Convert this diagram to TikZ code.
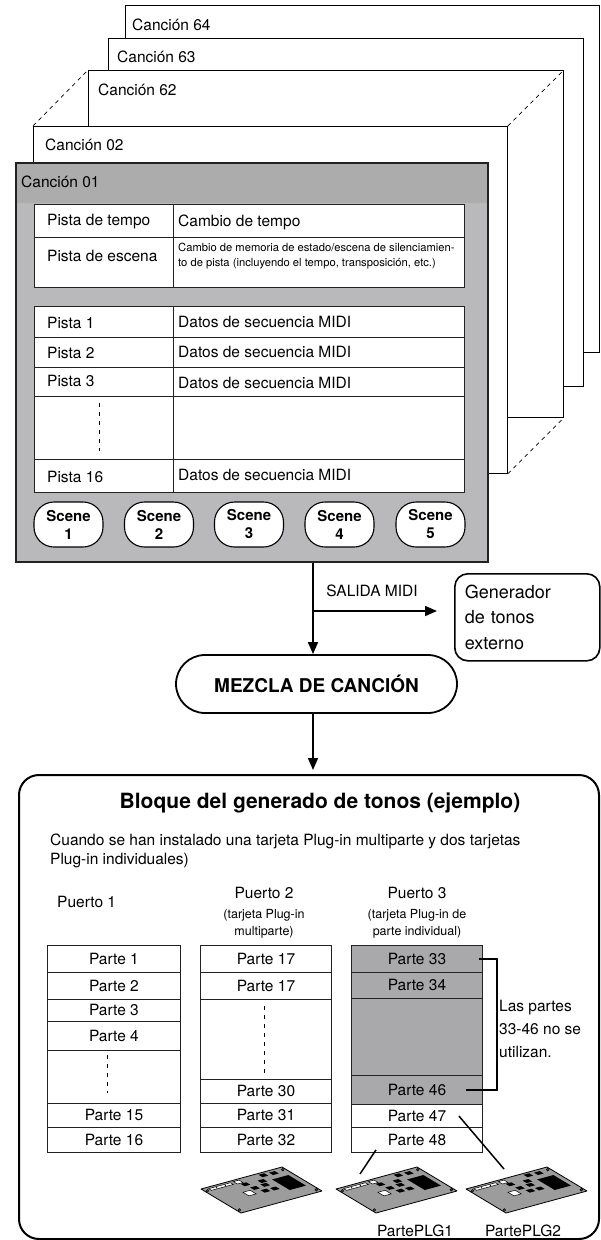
\documentclass[tikz,border=0pt]{standalone}
\usepackage{fontspec}
\setmainfont{TeX Gyre Heros}
\usetikzlibrary{arrows.meta,calc}

\definecolor{hdrgray}{HTML}{ACACAC}
\definecolor{bodygray}{HTML}{B9B9BC}
\definecolor{partgray}{HTML}{A9A9AC}
\definecolor{boardfill}{HTML}{9C9C9C}
\definecolor{inkline}{HTML}{222222}

% A plug-in card seen at an angle; #1 = its left corner, #2 = name of that corner
\newcommand\pcboard[2]{%
  \coordinate (#2) at #1;
  \begin{scope}[shift={#1}, x={(81pt,22pt)}, y={(40pt,-24pt)}]
    \filldraw[fill=boardfill, draw=black, line width=0.8pt, line join=round]
      (0,0) -- (1,0) -- (1,1) -- (0,1) -- cycle;
    % edge connector
    \filldraw[fill=white, draw=black, line width=0.5pt]
      (0.07,0.05) -- ++(0.27,0) -- ++(0,0.07) -- ++(-0.27,0) -- cycle;
    \fill[black] (0.15,0.085) circle[radius=0.7pt] (0.26,0.085) circle[radius=0.7pt];
    \filldraw[fill=white, draw=black, line width=0.5pt]
      (0.38,0.04) -- ++(0.07,0) -- ++(0,0.1) -- ++(-0.07,0) -- cycle;
    % main chip
    \fill[black] (0.74,0.28) -- ++(0.20,0) -- ++(0,0.44) -- ++(-0.20,0) -- cycle;
    % small chips
    \foreach \a/\b in {0.41/0.16, 0.60/0.20, 0.69/0.04, 0.81/0.06, 0.44/0.34, 0.57/0.33, 0.49/0.50, 0.60/0.51}
      \fill[black] (\a,\b) -- ++(0.07,0) -- ++(0,0.1) -- ++(-0.07,0) -- cycle;
    % pad
    \filldraw[fill=white, draw=black, line width=0.5pt]
      (0.31,0.42) -- ++(0.09,0) -- ++(0,0.15) -- ++(-0.09,0) -- cycle;
    % mounting holes
    \foreach \a/\b in {0.03/0.1, 0.97/0.08, 0.97/0.92, 0.03/0.9}
      \filldraw[fill=black!70, draw=black, line width=0.4pt] (\a,\b) circle[radius=1.4pt];
  \end{scope}}

\tikzset{
  txt/.style={inner sep=0pt, font=\fontsize{15.5}{18}\selectfont},
  smalltxt/.style={inner sep=0pt, font=\fontsize{11.2}{14.5}\selectfont},
  notetxt/.style={inner sep=0pt, font=\fontsize{12.5}{17}\selectfont},
  page/.style={draw=black, fill=white, line width=0.8pt, inner sep=0pt, anchor=north west},
  cell/.style={draw=inkline, fill=white, line width=0.9pt, inner sep=0pt, anchor=north west},
  pcell/.style={cell, font=\fontsize{15.5}{18}\selectfont},
  scene/.style={draw=black, fill=white, line width=1.1pt, rounded corners=20pt,
    minimum width=69pt, minimum height=45pt, inner sep=0pt, align=center,
    font=\bfseries\fontsize{15}{18}\selectfont},
  arr/.style={line width=1.6pt, -{Triangle[length=12pt,width=10pt]}},
  dots/.style={dash pattern=on 4pt off 5pt, line width=0.8pt},
  pagedash/.style={dash pattern=on 4pt off 4pt, line width=0.7pt},
}

\begin{document}
\begin{tikzpicture}[x=1pt,y=-1pt]
\useasboundingbox (0,0) rectangle (600,1240);

% ---- stack of songs ----
\node[page, minimum width=474pt, minimum height=347pt] (s64) at (125,5) {};
\node[txt, anchor=west] (l64) at (132,25) {Canción 64};
\node[page, minimum width=475pt, minimum height=348pt] (s63) at (108,38) {};
\node[txt, anchor=west] (l63) at (117,57) {Canción 63};
\node[page, minimum width=475pt, minimum height=347pt] (s62) at (88,70) {};
\node[txt, anchor=west] (l62) at (98,90) {Canción 62};
\node[page, minimum width=474pt, minimum height=347pt] (s02) at (33,126) {};
\node[txt, anchor=west] (l02) at (45,145) {Canción 02};
\draw[pagedash] (s02.north west) -- (s62.north west);
\draw[pagedash] (s02.north east) -- (s62.north east);
\draw[pagedash] (s02.south east) -- (s62.south east);

% ---- song 01 ----
\fill[bodygray] (15,162) rectangle (487,561);
\fill[hdrgray] (15,162) rectangle (487,203);
\node[draw=inkline, line width=2.4pt, anchor=north west, minimum width=472pt,
      minimum height=399pt, inner sep=0pt] (s01) at (15,162) {};
\node[txt, anchor=west] (l01) at (21,182) {Canción 01};

% tempo / scene tracks
\node[cell, minimum width=139pt, minimum height=33pt] (ta1) at (34,204) {};
\node[cell, minimum width=291pt, minimum height=33pt] (tb1) at (173,204) {};
\node[cell, minimum width=139pt, minimum height=50pt] (ta2) at (34,237) {};
\node[cell, minimum width=291pt, minimum height=50pt] (tb2) at (173,237) {};
\node[txt, anchor=west] (x1) at (47,222) {Pista de tempo};
\node[txt, anchor=west] (x2) at (178,222) {Cambio de tempo};
\node[txt, anchor=west] (x3) at (47,256) {Pista de escena};
\node[smalltxt, anchor=west, align=left] (x4) at (178,256)
  {Cambio de memoria de estado/escena de silenciamien-\\to de pista (incluyendo el tempo, transposición, etc.)};

% sequence tracks
\foreach \y/\h/\n in {306/31/1, 337/30/2, 367/29/3, 396/63/4, 459/33/5}{
  \node[cell, minimum width=139pt, minimum height=\h pt] (pa\n) at (34,\y) {};
  \node[cell, minimum width=291pt, minimum height=\h pt] (pb\n) at (173,\y) {};
}
\node[txt, anchor=west] (y1) at (47,323) {Pista 1};
\node[txt, anchor=west] (z1) at (178,322) {Datos de secuencia MIDI};
\node[txt, anchor=west] (y2) at (47,353) {Pista 2};
\node[txt, anchor=west] (z2) at (178,352) {Datos de secuencia MIDI};
\node[txt, anchor=west] (y3) at (47,381) {Pista 3};
\node[txt, anchor=west] (z3) at (178,383) {Datos de secuencia MIDI};
\node[txt, anchor=west] (y5) at (47,477) {Pista 16};
\node[txt, anchor=west] (z5) at (178,475) {Datos de secuencia MIDI};
\draw[dots] (99,403) -- (99,451);

% scenes
\foreach \i/\x in {1/68.5, 2/159, 3/249, 4/339.5, 5/430.5}
  \node[scene] (sc\i) at (\x,524.5) {Scene\\\i};

% ---- output flow ----
\coordinate (tap) at (313,611);
\node[draw, line width=1.8pt, rounded corners=29pt, minimum width=281pt, minimum height=58pt,
      inner sep=0pt, font=\bfseries\fontsize{19}{22}\selectfont] (mix) at (316.5,684) {MEZCLA DE CANCIÓN};
\node[draw, line width=1.6pt, rounded corners=13pt, anchor=north west, minimum height=87pt,
      text width=125pt, inner xsep=10pt, align=left,
      font=\fontsize{18}{25.5}\selectfont] (gen) at (454,573) {Generador\\de tonos\\externo};
\node[draw, line width=2pt, rounded corners=20pt, anchor=north west, minimum width=580pt,
      minimum height=464pt, inner sep=0pt] (blk) at (18,774) {};

\draw[line width=1.6pt] (s01.south -| tap) -- (tap);
\draw[arr] (tap) -- (tap |- mix.north);
\draw[arr] (tap) -- ($(tap -| gen.west)+(-17,0)$);
\node[txt] (midi) at (372,591) {SALIDA MIDI};
\draw[arr, shorten >=4pt] (mix.south -| tap) -- (tap |- blk.north);

% ---- tone generator block ----
\node[inner sep=0pt, font=\bfseries\fontsize{21}{25}\selectfont] (title) at (320,803)
  {Bloque del generado de tonos (ejemplo)};
\node[txt, anchor=west] (sub1) at (50,841) {Cuando se han instalado una tarjeta Plug-in multiparte y dos tarjetas};
\node[txt, anchor=west] (sub2) at (50,861) {Plug-in individuales)};

\node[txt, anchor=west] (port1) at (57,902) {Puerto 1};
\node[txt] (port2) at (264,893) {Puerto 2};
\node[notetxt, align=center] (port2n) at (264,924) {(tarjeta Plug-in\\multiparte)};
\node[txt] (port3) at (417,893) {Puerto 3};
\node[notetxt, align=center] (port3n) at (417,924) {(tarjeta Plug-in de\\parte individual)};

% port 1
\foreach \y/\h/\t/\n in {945/27/Parte 1/1, 972/27/Parte 2/2, 999/22/Parte 3/3, 1021/29/Parte 4/4,
                         1050/53//5, 1103/24/Parte 15/6, 1127/25/Parte 16/7}
  \node[pcell, minimum width=133pt, minimum height=\h pt] (a\n) at (47,\y) {\t};
\draw[dots] (107,1055) -- (107,1093);

% port 2
\foreach \y/\h/\t/\n in {945/27/Parte 17/1, 972/27/Parte 17/2, 999/80//3,
                         1079/24/Parte 30/4, 1103/24/Parte 31/5, 1127/25/Parte 32/6}
  \node[pcell, minimum width=131pt, minimum height=\h pt] (b\n) at (200,\y) {\t};
\draw[dots] (264,1006) -- (264,1073);

% port 3
\foreach \y/\h/\t/\n in {945/27/Parte 33/1, 972/26/Parte 34/2, 998/77//3, 1075/29/Parte 46/4}
  \node[pcell, fill=partgray, minimum width=131pt, minimum height=\h pt] (c\n) at (351,\y) {\t};
\node[pcell, minimum width=131pt, minimum height=23pt] (c5) at (351,1104) {Parte 47};
\node[pcell, minimum width=131pt, minimum height=25pt] (c6) at (351,1127) {Parte 48};

\draw[line width=2.2pt] ($(c1.east)+(-4,0)$) -- ++(18,0) |- ($(c4.east)+(-17,0)$);
\node[anchor=west, align=left, inner sep=0pt, font=\fontsize{15.5}{23}\selectfont] (unused) at (499,1029)
  {Las partes\\33-46 no se\\utilizan.};

% plug-in cards
\pcboard{(201,1189)}{card0}
\pcboard{(336,1189)}{card1}
\pcboard{(466,1189)}{card2}
\coordinate (k1) at ($(card1)+(24,-15)$);
\coordinate (k2) at ($(card2)+(38,-20)$);
\draw[line width=1.5pt] ($(c6.south west)+(25,-3)$) -- (k1);
\draw[line width=1.5pt] ($(c5.north east)+(-24,12)$) -- (k2);
\node[txt] (plg1) at (415,1231) {PartePLG1};
\node[txt] (plg2) at (523,1231) {PartePLG2};
\end{tikzpicture}
\end{document}
